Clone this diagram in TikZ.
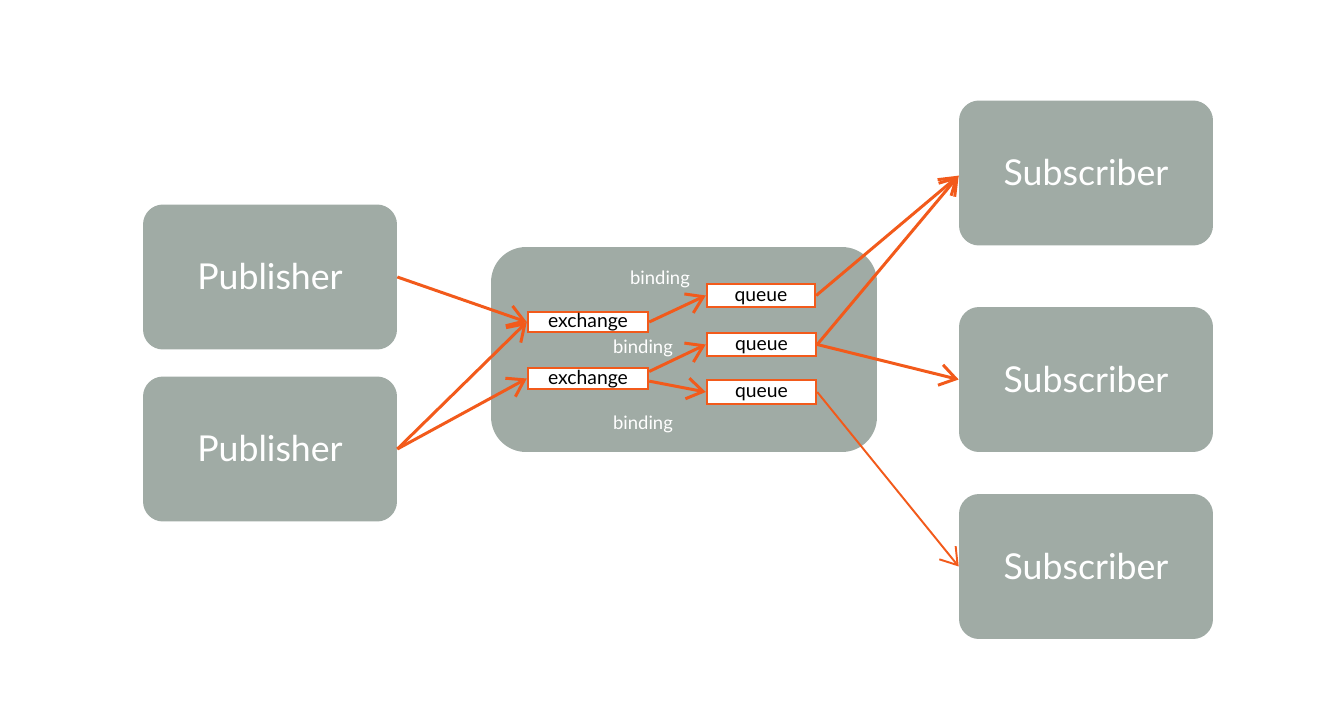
\documentclass[tikz,border=0pt]{standalone}
\usepackage{fontspec}
\setmainfont{Lato}
\usetikzlibrary{arrows.meta}
\definecolor{boxgray}{HTML}{A0ABA5}
\definecolor{arrorange}{HTML}{F25A1B}
\begin{document}
\begin{tikzpicture}[x=0.02cm,y=-0.02cm,
	big/.style={fill=boxgray,rounded corners=0.4cm,minimum width=5.08cm,minimum height=2.9cm,text=white,font=\fontsize{20.3}{24}\selectfont},
	part/.style={draw=arrorange,fill=white,line width=1.4pt,inner sep=0pt,text height=0.86em,text depth=0.2em,font=\fontsize{11}{13}\selectfont},
	lbl/.style={text=white,font=\fontsize{10.5}{12}\selectfont},
	flow/.style={arrorange,line width=1.7pt,-{Straight Barb[length=3.2mm,width=4.2mm]}}]
	\useasboundingbox (0,0) rectangle (1342,700);
	% publishers and subscribers
	\node[big] (pub1) at (270,277) {Publisher};
	\node[big] (pub2) at (270,449) {Publisher};
	\node[big] (sub1) at (1086,173) {Subscriber};
	\node[big] (sub2) at (1086,379.5) {Subscriber};
	\node[big] (sub3) at (1086,566.5) {Subscriber};
	% broker
	\node[fill=boxgray,rounded corners=0.7cm,minimum width=7.72cm,minimum height=4.1cm] (broker) at (684,349.5) {};
	\node[part,minimum width=2.4cm,minimum height=0.4cm] (ex1) at (588,322) {exchange};
	\node[part,minimum width=2.4cm,minimum height=0.42cm] (ex2) at (588,378.5) {exchange};
	\node[part,minimum width=2.16cm,minimum height=0.46cm] (q1) at (761,295.5) {queue};
	\node[part,minimum width=2.18cm,minimum height=0.46cm] (q2) at (761.5,344.5) {queue};
	\node[part,minimum width=2.18cm,minimum height=0.48cm] (q3) at (761.5,392) {queue};
	\node[lbl] (b1) at (660,279) {binding};
	\node[lbl] (b2) at (643,348) {binding};
	\node[lbl] (b3) at (643,424) {binding};
	% arrows
	\draw[flow] (pub1.east) -- (ex1.west);
	\draw[flow] (pub2.east) -- (ex1.west);
	\draw[flow] (pub2.east) -- (ex2.west);
	\draw[flow] (ex1.east) -- (q1.west);
	\draw[flow] ([yshift=4pt]ex2.east) -- (q2.west);
	\draw[flow] ([yshift=-1.5pt]ex2.east) -- (q3.west);
	\draw[flow] (q1.east) -- ([yshift=-1.5pt]sub1.west);
	\draw[flow] (q2.east) -- ([yshift=-1.5pt]sub1.west);
	\draw[flow] (q2.east) -- (sub2.west);
	\draw[flow,line width=1.1pt] (q3.east) -- (sub3.west);
\end{tikzpicture}
\end{document}
